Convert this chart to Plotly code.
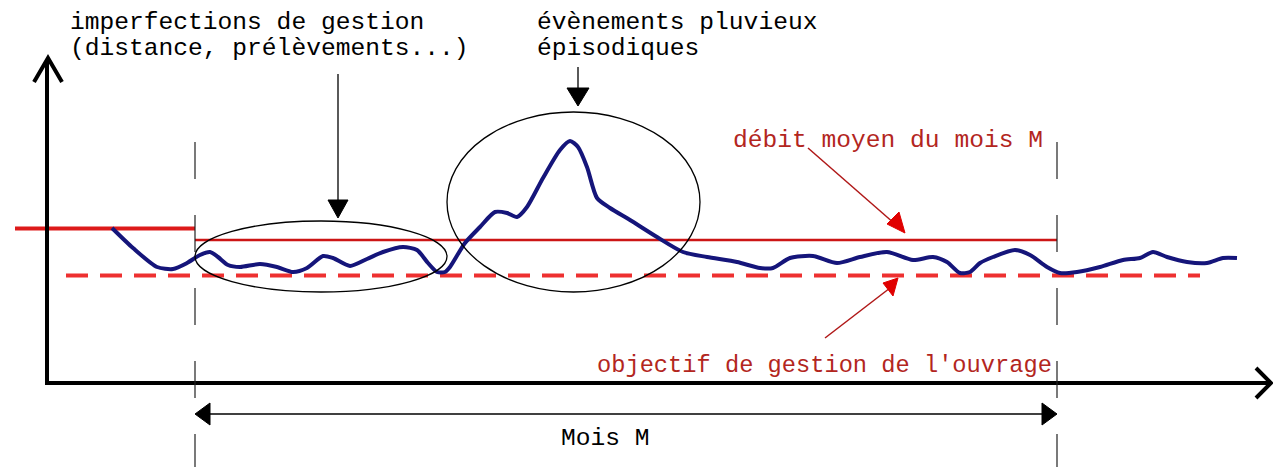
import plotly.graph_objects as go

W, H = 1273, 467

# --- data (in picture units) ---
curve_x = [112,133,157,173,187,200,210,218,228,240,260,277,293,307,323,333,350,367,383,403,
           417,428,437,445,450,465,480,495,507,517,527,543,560,570,578,587,597,610,630,657,
           683,707,737,760,773,790,813,837,860,887,913,933,947,960,970,980,993,1015,1030,1047,
           1060,1077,1100,1123,1140,1153,1167,1187,1207,1223,1237]
curve_y = [228,248,267,269,263,255,252,257,265,267,264,267,272,268,256,258,266,259,252,247,
           250,263,272,272,267,243,227,212,213,217,207,178,150,141,147,167,198,208,220,237,
           252,257,262,268,268,258,256,263,257,252,260,257,262,273,272,263,257,250,255,267,
           273,272,267,260,258,252,257,262,263,258,258]

month_start, month_end = 195, 1057
prev_mean_level = 228.5
month_mean_level = 240
objective_level = 275.5
objective_span = [66, 1200]
prev_span = [15, 195]

labels_imperf = ["imperfections de gestion", "(distance, prélèvements...)"]
labels_pluie = ["évènements pluvieux", "épisodiques"]
label_mean = "débit moyen du mois M"
label_obj = "objectif de gestion de l'ouvrage"
label_month = "Mois M"

FONT = "Liberation Mono, Courier New, monospace"
NAVY = "#15157a"
RED = "#dd1a1a"
TXT_RED = "#b3261e"

fig = go.Figure()

# objective dashed line
fig.add_trace(go.Scatter(x=objective_span, y=[objective_level]*2, mode="lines",
                         line=dict(color="#ee3030", width=4, dash="22px,12px"),
                         hoverinfo="skip"))
# previous month mean (thick)
fig.add_trace(go.Scatter(x=prev_span, y=[prev_mean_level]*2, mode="lines",
                         line=dict(color=RED, width=4), hoverinfo="skip"))
# month mean
fig.add_trace(go.Scatter(x=[month_start, month_end], y=[month_mean_level]*2, mode="lines",
                         line=dict(color="#cc1515", width=2.5), hoverinfo="skip"))
# flow curve
fig.add_trace(go.Scatter(x=curve_x, y=curve_y, mode="lines",
                         line=dict(color=NAVY, width=4, shape="spline", smoothing=0.7),
                         hoverinfo="skip"))

shapes = []
# axes
shapes.append(dict(type="line", x0=47, x1=47, y0=385, y1=60, line=dict(color="black", width=4)))
shapes.append(dict(type="line", x0=45, x1=1270, y0=383, y1=383, line=dict(color="black", width=4)))
shapes.append(dict(type="path", path="M 34,82 L 48,58 L 62,82", line=dict(color="black", width=4)))
shapes.append(dict(type="path", path="M 1256,368 L 1271,383 L 1256,398", line=dict(color="black", width=4)))

# month boundaries (dashed)
for xv in (month_start, month_end):
    shapes.append(dict(type="line", x0=xv, x1=xv, y0=142, y1=467,
                       line=dict(color="#222", width=1.2, dash="37px,36px")))

# ellipses
shapes.append(dict(type="circle", x0=195, x1=447, y0=221, y1=292, line=dict(color="black", width=1.3)))
shapes.append(dict(type="circle", x0=447, x1=700, y0=112, y1=292, line=dict(color="black", width=1.3)))

# black arrows
shapes.append(dict(type="line", x0=338, x1=338, y0=74, y1=205, line=dict(color="black", width=1.3)))
shapes.append(dict(type="path", path="M 328,200 L 348,200 L 338,218 Z", fillcolor="black", line=dict(color="black", width=1)))
shapes.append(dict(type="line", x0=578, x1=578, y0=67, y1=92, line=dict(color="black", width=1.3)))
shapes.append(dict(type="path", path="M 567,88 L 589,88 L 578,106 Z", fillcolor="black", line=dict(color="black", width=1)))

# red arrows
shapes.append(dict(type="line", x0=808, x1=895, y0=148, y1=224, line=dict(color="#b01818", width=1.5)))
shapes.append(dict(type="path", path="M 887,224 L 899,212 L 905,233 Z", fillcolor="#e00000", line=dict(color="#e00000", width=1)))
shapes.append(dict(type="line", x0=825, x1=890, y0=338, y1=288, line=dict(color="#b01818", width=1.5)))
shapes.append(dict(type="path", path="M 883,283 L 893,296 L 898,278 Z", fillcolor="#e00000", line=dict(color="#e00000", width=1)))

# month double arrow
shapes.append(dict(type="line", x0=208, x1=1044, y0=414, y1=414, line=dict(color="black", width=1.3)))
shapes.append(dict(type="path", path="M 195,414 L 210,403 L 210,425 Z", fillcolor="black", line=dict(color="black", width=1)))
shapes.append(dict(type="path", path="M 1057,414 L 1042,403 L 1042,425 Z", fillcolor="black", line=dict(color="black", width=1)))

annotations = []
def txt(x, y, s, color="black", size=24.6, anchor="left"):
    annotations.append(dict(x=x, y=y, text=s, showarrow=False, xanchor=anchor, yanchor="middle",
                            font=dict(family=FONT, size=size, color=color)))

txt(68, 22, labels_imperf[0])
txt(68, 48, labels_imperf[1])
txt(535, 22, labels_pluie[0])
txt(535, 48, labels_pluie[1])
txt(731, 140, label_mean, color=TXT_RED)
txt(595, 365, label_obj, color=TXT_RED, size=23.7)
txt(605, 438, label_month, anchor="center")

fig.update_layout(
    width=W, height=H, margin=dict(l=0, r=0, t=0, b=0),
    paper_bgcolor="white", plot_bgcolor="white", showlegend=False,
    xaxis=dict(range=[0, W], visible=False, fixedrange=True),
    yaxis=dict(range=[H, 0], visible=False, fixedrange=True),
    shapes=shapes, annotations=annotations,
)

fig.write_html("out.html", config={"displayModeBar": False},
               post_script="document.body.style.margin='0';document.body.style.overflow='hidden';")
